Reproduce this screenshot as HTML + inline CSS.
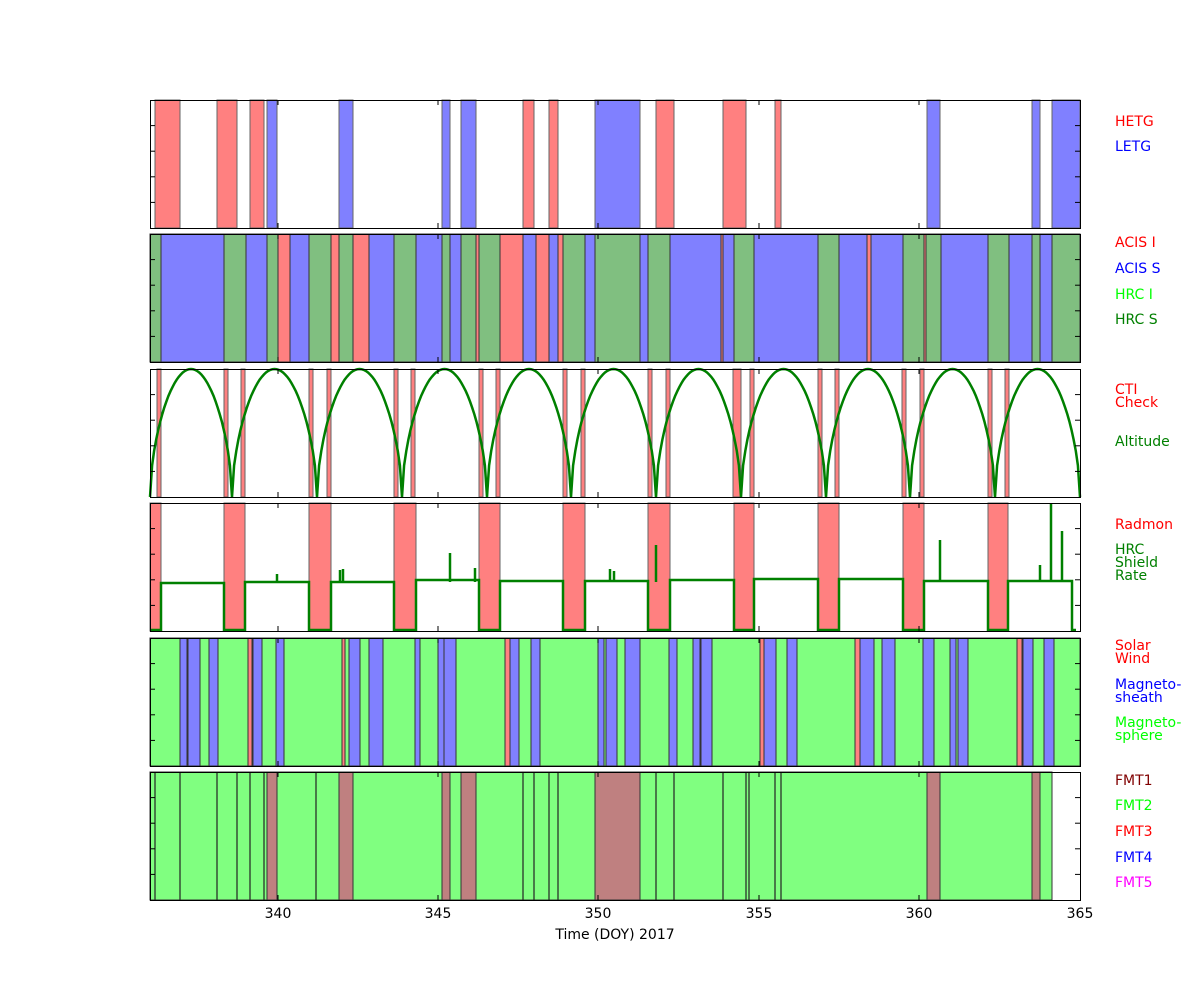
<!DOCTYPE html>
<html><head><meta charset="utf-8"><style>
body{margin:0;background:#fff;width:1200px;height:1000px;overflow:hidden}
svg text{font-family:"DejaVu Sans","Liberation Sans",sans-serif}
</style></head><body>
<svg id="s" width="1200" height="1000" xmlns="http://www.w3.org/2000/svg">
<rect width="1200" height="1000" fill="#fff"/>
<g id="g"></g>
<g font-size="14">
<text x="1115" y="126" fill="#f00">HETG</text>
<text x="1115" y="151" fill="#00f">LETG</text>
<text x="1115" y="247" fill="#f00">ACIS I</text>
<text x="1115" y="273" fill="#00f">ACIS S</text>
<text x="1115" y="299" fill="#0f0">HRC I</text>
<text x="1115" y="324" fill="#008000">HRC S</text>
<text x="1115" y="394" fill="#f00">CTI</text>
<text x="1115" y="407" fill="#f00">Check</text>
<text x="1115" y="446" fill="#008000">Altitude</text>
<text x="1115" y="529" fill="#f00">Radmon</text>
<text x="1115" y="554" fill="#008000">HRC</text>
<text x="1115" y="567" fill="#008000">Shield</text>
<text x="1115" y="580" fill="#008000">Rate</text>
<text x="1115" y="650" fill="#f00">Solar</text>
<text x="1115" y="663" fill="#f00">Wind</text>
<text x="1115" y="689" fill="#00f">Magneto-</text>
<text x="1115" y="702" fill="#00f">sheath</text>
<text x="1115" y="727" fill="#0f0">Magneto-</text>
<text x="1115" y="740" fill="#0f0">sphere</text>
<text x="1115" y="785" fill="#800000">FMT1</text>
<text x="1115" y="810" fill="#0f0">FMT2</text>
<text x="1115" y="836" fill="#f00">FMT3</text>
<text x="1115" y="862" fill="#00f">FMT4</text>
<text x="1115" y="887" fill="#f0f">FMT5</text>
<text x="278" y="918" text-anchor="middle">340</text>
<text x="438" y="918" text-anchor="middle">345</text>
<text x="598" y="918" text-anchor="middle">350</text>
<text x="759" y="918" text-anchor="middle">355</text>
<text x="919" y="918" text-anchor="middle">360</text>
<text x="1080" y="918" text-anchor="middle">365</text>
<text x="615" y="939" text-anchor="middle">Time (DOY) 2017</text>
</g>
</svg>
<script>
var g=document.getElementById('g'),h='';
var P=[[100,228],[234,362],[369,497],[503,631],[638,766],[772,900]];
var R='#ff8080',B='#8080ff',G2='#80bf80',G5='#80ff80',BR='#bf8080';
function rect(x1,x2,p,c,st){h+='<rect x="'+x1+'" y="'+P[p][0]+'" width="'+(x2-x1)+'" height="'+(P[p][1]-P[p][0])+'" fill="'+c+'" stroke="'+(st||'#666')+'" stroke-width="1"/>';}
[[155,180],[217,237],[250,264],[523,534],[549,558],[656,674],[723,746],[775,781]].forEach(a=>rect(a[0],a[1],0,R));
[[267,277],[339,353],[442,450],[461,476],[595,640],[927,940],[1032,1040],[1052,1080]].forEach(a=>rect(a[0],a[1],0,B));
var s1=[[150,161,G2],[161,224,B],[224,246,G2],[246,267,B],[267,278,G2],[278,290,R],[290,309,B],[309,331,G2],[331,339,R],[339,353,G2],[353,369,R],[369,394,B],[394,416,G2],[416,442,B],[442,450,G2],[450,461,B],[461,476,G2],[476,479,R],[479,500,G2],[500,523,R],[523,536,B],[536,549,R],[549,558,B],[558,563,R],[563,585,G2],[585,595,B],[595,640,G2],[640,648,B],[648,670,G2],[670,721,B],[721,723,R],[723,734,B],[734,754,G2],[754,818,B],[818,839,G2],[839,867,B],[867,871,R],[871,903,B],[903,924,G2],[924,926,R],[926,941,G2],[941,988,B],[988,1009,G2],[1009,1032,B],[1032,1040,G2],[1040,1052,B],[1052,1080,G2]];
s1.forEach(a=>rect(a[0],a[1],1,a[2],'#333'));
[157,224,241,309,327,394,411,479,496,563,581,648,666,750,818,835,902,920,988,1005].forEach(x=>rect(x,x+4,2,R));
rect(733,741,2,R);
var mins=[150,232,317,402,487,571,656,741,826,910,995,1080],pts=[];
for(var i=0;i<mins.length-1;i++){var a=mins[i],b=mins[i+1];for(var k=0;k<=40;k++){var t=k/40;var y=497-128*Math.pow(Math.sin(Math.PI*t),0.55);pts.push((a+(b-a)*t).toFixed(1)+','+y.toFixed(1));}}
h+='<polyline points="'+pts.join(' ')+'" fill="none" stroke="#008000" stroke-width="2.5"/>';
var rb=[[150,161],[224,245],[309,331],[394,416],[479,500],[563,585],[648,670],[734,754],[818,839],[903,924],[988,1008]];
rb.forEach(a=>rect(a[0],a[1],3,R));
var lv=[583,582,582,580,581,581,580,579,579,581,581],d='M150,630 ';
for(var i=0;i<rb.length;i++){var x1=rb[i][1],x2=i+1<rb.length?rb[i+1][0]:1072;d+='L'+x1+',630 L'+x1+','+lv[i]+' L'+x2+','+lv[i]+' L'+x2+',630 ';}
d+='L1076,630';
h+='<path d="'+d+'" fill="none" stroke="#008000" stroke-width="2.5"/>';
[[277,574],[340,570],[343,569],[450,553],[475,568],[610,569],[614,571],[656,545],[940,540],[1040,565],[1051,504],[1062,531]].forEach(s=>{h+='<line x1="'+s[0]+'" y1="582" x2="'+s[0]+'" y2="'+s[1]+'" stroke="#008000" stroke-width="2.5"/>';});
rect(150,1080,4,G5,'#333');
[[180,187],[188,200],[209,218],[253,262],[276,284],[349,360],[369,383],[415,420],[438,444],[444,456],[510,519],[531,540],[598,604],[606,617],[625,640],[669,677],[693,700],[701,712],[764,776],[787,797],[860,874],[882,895],[923,934],[950,956],[958,968],[1023,1033],[1044,1054]].forEach(a=>rect(a[0],a[1],4,B,'#333'));
[[248,252],[342,345],[505,510],[760,764],[855,860],[1017,1022]].forEach(a=>rect(a[0],a[1],4,R,'#333'));
rect(150,1052,5,G5,'#333');
[[267,277],[339,353],[442,450],[461,476],[595,640],[927,940],[1032,1040]].forEach(a=>rect(a[0],a[1],5,BR,'#333'));
[155,180,217,237,250,264,316,523,534,549,558,656,674,723,746,749,775,781].forEach(x=>{h+='<line x1="'+x+'" y1="772" x2="'+x+'" y2="900" stroke="#222" stroke-width="1.2"/>';});
P.forEach(p=>{h+='<rect x="150.5" y="'+p[0]+'.5" width="930" height="'+(p[1]-p[0])+'" fill="none" stroke="#000" stroke-width="1"/>';
 [278,438,598,759,919].forEach(x=>{h+='<line x1="'+x+'" y1="'+p[0]+'" x2="'+x+'" y2="'+(p[0]+5)+'" stroke="#000"/><line x1="'+x+'" y1="'+p[1]+'" x2="'+x+'" y2="'+(p[1]-5)+'" stroke="#000"/>';});
 for(var k=1;k<5;k++){var y=p[0]+k*(p[1]-p[0])/5;h+='<line x1="150" y1="'+y+'" x2="155" y2="'+y+'" stroke="#000"/><line x1="1080" y1="'+y+'" x2="1075" y2="'+y+'" stroke="#000"/>';}
});
g.innerHTML=h;
</script>
</body></html>
